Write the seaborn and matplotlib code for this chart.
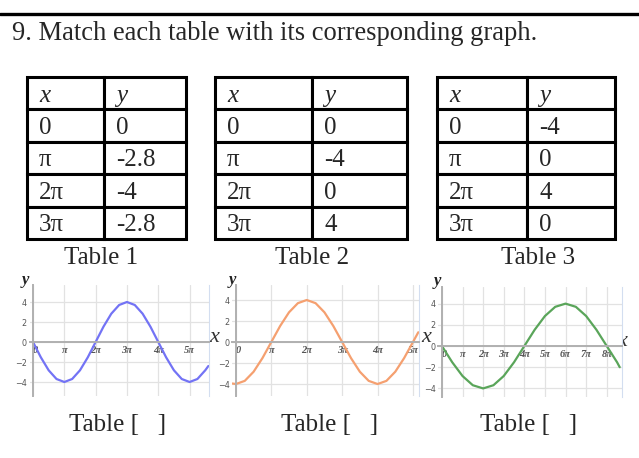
import matplotlib
matplotlib.use("Agg")
import matplotlib.pyplot as plt
import seaborn as sns
import pandas as pd

# table contents
TABLE_X = ["0", "π", "2π", "3π"]
TABLE1_Y = ["0", "-2.8", "-4", "-2.8"]
TABLE2_Y = ["0", "-4", "0", "4"]
TABLE3_Y = ["-4", "0", "4", "0"]
TABLE_NAMES = ["Table 1", "Table 2", "Table 3"]

# graph curves, x in multiples of pi
G1_X = [0, 0.25, 0.5, 0.75, 1, 1.25, 1.5, 1.75, 2, 2.25, 2.5, 2.75, 3,
        3.25, 3.5, 3.75, 4, 4.25, 4.5, 4.75, 5, 5.25, 5.5, 5.6]
G1_Y = [0, -1.53, -2.83, -3.7, -4, -3.7, -2.83, -1.53, 0, 1.53, 2.83, 3.7, 4,
        3.7, 2.83, 1.53, 0, -1.53, -2.83, -3.7, -4, -3.7, -2.83, -2.4]
G2_X = [-0.1, 0, 0.25, 0.5, 0.75, 1, 1.25, 1.5, 1.75, 2, 2.25, 2.5, 2.75, 3,
        3.25, 3.5, 3.75, 4, 4.25, 4.5, 4.75, 5, 5.15]
G2_Y = [-3.95, -4, -3.7, -2.83, -1.53, 0, 1.53, 2.83, 3.7, 4, 3.7, 2.83, 1.53, 0,
        -1.53, -2.83, -3.7, -4, -3.7, -2.83, -1.53, 0, 0.93]
G3_X = [0, 0.5, 1, 1.5, 2, 2.5, 3, 3.5, 4, 4.5, 5, 5.5, 6, 6.5, 7, 7.5, 8,
        8.5, 8.63]
G3_Y = [0, -1.53, -2.83, -3.7, -4, -3.7, -2.83, -1.53, 0, 1.53, 2.83, 3.7, 4,
        3.7, 2.83, 1.53, 0, -1.53, -2.0]

G1_TICKS = ["0", "π", "2π", "3π", "4π", "5π"]
G2_TICKS = ["0", "π", "2π", "3π", "4π", "5π"]
G3_TICKS = ["0", "π", "2π", "3π", "4π", "5π", "6π", "7π", "8π"]
Y_TICKS = [-4, -2, 0, 2, 4]

sns.set_style("white")
plt.rcParams["font.family"] = ["Liberation Serif", "DejaVu Serif"]

W, H = 639, 458
fig = plt.figure(figsize=(W / 100, H / 100), dpi=100)

# overlay in pixel coordinates for the worksheet text and tables
ax0 = fig.add_axes([0, 0, 1, 1])
ax0.set_xlim(0, W)
ax0.set_ylim(H, 0)
ax0.axis("off")
ax0.axhline(13.5, color="black", lw=2.4)
ax0.text(12, 40, "9. Match each table with its corresponding graph.",
         fontsize=19.1, va="baseline", ha="left")


def draw_table(ys, box, split, name, name_x):
    left, right, top, bottom = box
    rows = [["x", "y"]] + [[a, b] for a, b in zip(TABLE_X, ys)]
    w1 = (split - left) / (right - left)
    col_px = [split - left, right - split]
    tab = ax0.table(cellText=rows, cellLoc="left",
                    colWidths=[w1, 1 - w1],
                    bbox=[left / W, 1 - bottom / H, (right - left) / W, (bottom - top) / H])
    tab.auto_set_font_size(False)
    for (r, c), cell in tab.get_celld().items():
        cell.set_linewidth(2.2)
        cell.set_edgecolor("black")
        cell.PAD = 12 / col_px[c]
        txt = cell.get_text()
        txt.set_fontsize(18)
        txt.set_fontfamily(["Liberation Serif", "DejaVu Serif"])
        txt.set_va("center_baseline")
        if r == 0:
            txt.set_fontstyle("italic")
    ax0.text(name_x, 264, name, fontsize=18, ha="center", va="baseline")


draw_table(TABLE1_Y, (27, 186, 77, 239), 104, TABLE_NAMES[0], 101)
draw_table(TABLE2_Y, (215, 407, 77, 239), 312, TABLE_NAMES[1], 312)
draw_table(TABLE3_Y, (437, 615, 77, 239), 527, TABLE_NAMES[2], 538)

for cx in [118, 330, 529]:
    ax0.text(cx, 431, "Table [   ]", fontsize=18, ha="center", va="baseline")


def draw_graph(px, xs, ys, ticks, color, xlim, ylim, ylab_px, xlab_px):
    left, right, top, bottom = px
    ax = fig.add_axes([left / W, 1 - bottom / H, (right - left) / W, (bottom - top) / H])
    df = pd.DataFrame({"x": xs, "y": ys})
    sns.lineplot(data=df, x="x", y="y", ax=ax, color=color, lw=1.6, sort=False)
    ax.set_xlim(*xlim)
    ax.set_ylim(*ylim)
    ax.set_xticks(range(len(ticks)))
    ax.set_xticklabels(ticks)
    ax.set_yticks(Y_TICKS)
    ax.set_xlabel("")
    ax.set_ylabel("")
    ax.grid(True, color="#e2e2e2", lw=0.9)
    ax.spines["top"].set_visible(False)
    ax.spines["right"].set_color("#d3def0")
    ax.spines["right"].set_linewidth(0.8)
    ax.spines["left"].set_position(("data", 0))
    ax.spines["bottom"].set_position(("data", 0))
    for s in ["left", "bottom"]:
        ax.spines[s].set_color("#b0b0b0")
        ax.spines[s].set_linewidth(1.4)
    ax.tick_params(axis="y", length=3, width=0.8, color="#999999", pad=1.5,
                   labelsize=5.8, labelcolor="#555555")
    ax.tick_params(axis="x", length=0, pad=3, labelsize=7.5, labelcolor="#555555")
    for lab in ax.get_yticklabels():
        lab.set_fontfamily("DejaVu Sans")
    for i, lab in enumerate(ax.get_xticklabels()):
        lab.set_fontweight("bold")
        lab.set_fontstyle("italic")
        if i == 0:
            lab.set_ha("left")
    ax0.text(ylab_px[0], ylab_px[1], "y", fontsize=12, fontweight="bold",
             fontstyle="italic", ha="center", va="center", color="#222222")
    ax0.text(xlab_px[0], xlab_px[1], "x", fontsize=16, fontstyle="italic",
             ha="center", va="center", color="#333333")
    return ax


draw_graph((30, 209, 285, 396), G1_X, G1_Y, G1_TICKS, "#7373f5",
           (-0.096, 5.62), (-5.4, 5.7), (25, 280), (214, 338))
draw_graph((232, 419, 285, 396), G2_X, G2_Y, G2_TICKS, "#f5a070",
           (-0.11, 5.17), (-5.14, 5.43), (232, 280), (426, 338))
draw_graph((438, 622, 287, 397), G3_X, G3_Y, G3_TICKS, "#5aa55a",
           (-0.19, 8.74), (-4.81, 5.57), (437, 281), (622, 342))

fig.savefig("out.png", dpi=100)
